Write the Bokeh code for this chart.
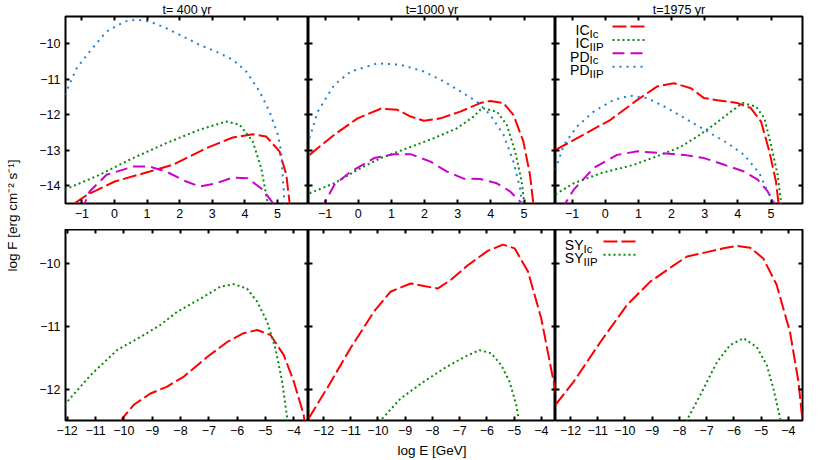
import math
from bokeh.plotting import figure
from bokeh.models import Range1d, LinearAxis, FixedTicker, Label
from bokeh.layouts import row, column
from bokeh.embed import file_html
from bokeh.resources import INLINE
from bokeh.core.properties import value

FONT = "Liberation Sans"

# ---------------- data ----------------
titles = ["t= 400 yr", "t=1000 yr", "t=1975 yr"]
top_xticks = [-1, 0, 1, 2, 3, 4, 5]
top_yticks = [-14, -13, -12, -11, -10]
bot_xticks = [-12, -11, -10, -9, -8, -7, -6, -5, -4]
bot_yticks = [-12, -11, -10]
top_xrange = (-1.5, 5.95)
top_yrange = (-14.5, -9.23)
bot_xrange_first = (-12.06, -3.48)
bot_xrange = (-12.55, -3.48)
bot_yrange = (-12.5, -9.46)

# t = 400 yr, top (IC / PD)
ic_ic_400_x = [-1.21, -0.81, 0.01, 1.08, 1.79, 2.82, 3.63, 4.24, 4.65, 5.06, 5.27, 5.37, 5.4]
ic_ic_400_y = [-14.49, -14.24, -13.88, -13.6, -13.41, -12.94, -12.64, -12.55, -12.61, -13.03, -13.69, -14.49, -14.7]
ic_iip_400_x = [-1.52, -0.45, 0.57, 1.59, 2.61, 3.43, 3.84, 4.24, 4.5, 4.65, 4.72]
ic_iip_400_y = [-14.11, -13.69, -13.22, -12.8, -12.42, -12.19, -12.28, -12.75, -13.5, -14.25, -14.6]
pd_ic_400_x = [-0.98, -0.91, -0.76, -0.24, 0.57, 1.08, 1.59, 2.2, 2.61, 3.12, 3.63, 4.09, 4.55, 4.86, 4.92]
pd_ic_400_y = [-14.7, -14.49, -14.16, -13.69, -13.46, -13.46, -13.6, -13.88, -14.02, -13.93, -13.77, -13.79, -14.11, -14.49, -14.6]
pd_iip_400_x = [-1.52, -1.16, -0.76, -0.24, 0.32, 0.67, 1.08, 1.59, 2.1, 2.61, 3.12, 3.63, 4.04, 4.45, 4.75, 5.01, 5.11, 5.21, 5.25]
pd_iip_400_y = [-11.44, -10.69, -10.22, -9.65, -9.37, -9.32, -9.37, -9.56, -9.79, -10.03, -10.22, -10.45, -10.78, -11.34, -11.9, -12.56, -13.03, -14.44, -14.8]

# t = 1000 yr, top
ic_ic_1000_x = [-1.47, -0.72, -0.02, 0.68, 1.18, 1.58, 1.98, 2.48, 3.08, 3.68, 3.98, 4.38, 4.68, 4.98, 5.18, 5.28, 5.3]
ic_ic_1000_y = [-13.13, -12.56, -12.1, -11.83, -11.86, -12.05, -12.17, -12.1, -11.91, -11.67, -11.61, -11.67, -12.0, -12.75, -13.69, -14.49, -14.7]
ic_iip_1000_x = [-1.47, -0.72, -0.02, 0.68, 1.48, 2.28, 2.98, 3.48, 3.73, 4.18, 4.48, 4.73, 4.93, 5.0, 5.03]
ic_iip_1000_y = [-14.21, -13.93, -13.55, -13.22, -12.94, -12.66, -12.38, -12.05, -11.81, -11.91, -12.28, -13.03, -13.88, -14.44, -14.7]
pd_ic_1000_x = [-1.1, -1.02, -0.72, -0.22, 0.48, 1.08, 1.58, 2.18, 2.68, 3.18, 3.68, 4.18, 4.58, 4.88, 4.95]
pd_ic_1000_y = [-14.7, -14.49, -13.97, -13.6, -13.22, -13.11, -13.11, -13.32, -13.6, -13.8, -13.81, -13.93, -14.16, -14.44, -14.6]
pd_iip_1000_x = [-1.47, -1.22, -0.72, -0.22, 0.58, 1.28, 1.98, 2.58, 3.08, 3.58, 3.98, 4.38, 4.68, 4.88, 4.93, 4.96]
pd_iip_1000_y = [-12.66, -11.91, -11.15, -10.78, -10.55, -10.59, -10.78, -11.06, -11.34, -11.63, -12.0, -12.56, -13.32, -14.07, -14.44, -14.7]

# t = 1975 yr, top
ic_ic_1975_x = [-1.5, -0.65, 0.16, 0.97, 1.57, 2.07, 2.58, 2.98, 3.39, 3.99, 4.39, 4.7, 4.95, 5.15, 5.22, 5.25]
ic_ic_1975_y = [-12.99, -12.56, -12.14, -11.58, -11.2, -11.11, -11.25, -11.53, -11.59, -11.67, -11.81, -12.19, -13.03, -13.88, -14.44, -14.7]
ic_iip_1975_x = [-1.5, -0.95, -0.14, 0.86, 1.67, 2.28, 2.78, 3.28, 3.79, 4.14, 4.55, 4.8, 5.0, 5.2, 5.3, 5.33]
ic_iip_1975_y = [-14.24, -13.93, -13.65, -13.41, -13.13, -12.9, -12.61, -12.28, -11.91, -11.67, -11.77, -12.1, -12.85, -13.69, -14.44, -14.7]
pd_ic_1975_x = [-1.25, -1.2, -0.95, -0.35, 0.36, 0.97, 1.67, 2.38, 2.98, 3.59, 4.19, 4.6, 4.9, 5.1, 5.15]
pd_ic_1975_y = [-14.7, -14.49, -14.11, -13.5, -13.13, -13.03, -13.08, -13.13, -13.22, -13.41, -13.6, -13.83, -14.16, -14.49, -14.6]
pd_iip_1975_x = [-1.5, -1.25, -0.85, -0.35, 0.26, 0.76, 1.27, 1.87, 2.48, 3.08, 3.69, 4.19, 4.65, 4.9, 5.05, 5.1]
pd_iip_1975_y = [-13.55, -12.85, -12.33, -11.91, -11.58, -11.46, -11.53, -11.81, -12.14, -12.47, -12.8, -13.13, -13.65, -14.16, -14.44, -14.7]

# bottom (SY)
sy_ic_400_x = [-10.1, -10.06, -9.65, -9.06, -8.47, -7.88, -7.06, -6.35, -5.77, -5.29, -4.82, -4.35, -4.0, -3.65, -3.6]
sy_ic_400_y = [-12.55, -12.47, -12.25, -12.07, -11.96, -11.8, -11.49, -11.25, -11.11, -11.06, -11.14, -11.46, -11.88, -12.41, -12.6]
sy_iip_400_x = [-12.1, -12.0, -11.18, -10.24, -9.41, -8.71, -8.12, -7.29, -6.59, -6.12, -5.65, -5.29, -4.94, -4.65, -4.41, -4.23, -4.2]
sy_iip_400_y = [-12.25, -12.2, -11.78, -11.38, -11.17, -10.98, -10.77, -10.56, -10.37, -10.33, -10.4, -10.61, -10.93, -11.35, -11.88, -12.47, -12.6]
sy_ic_1000_x = [-12.55, -11.87, -11.01, -10.15, -9.54, -8.8, -8.31, -7.81, -7.32, -6.7, -5.97, -5.41, -4.98, -4.49, -4.0, -3.69, -3.5, -3.45]
sy_ic_1000_y = [-12.47, -11.99, -11.35, -10.77, -10.45, -10.32, -10.36, -10.4, -10.26, -10.03, -9.8, -9.7, -9.76, -10.13, -10.88, -11.57, -11.99, -12.1]
sy_iip_1000_x = [-9.9, -9.84, -9.17, -8.31, -7.57, -6.83, -6.28, -5.84, -5.47, -5.17, -4.92, -4.84, -4.8]
sy_iip_1000_y = [-12.55, -12.47, -12.15, -11.88, -11.67, -11.49, -11.38, -11.43, -11.62, -11.88, -12.25, -12.47, -12.6]
sy_ic_1975_x = [-12.55, -11.88, -10.9, -9.92, -9.07, -8.21, -7.72, -6.99, -6.38, -5.89, -5.4, -4.92, -4.43, -3.94, -3.63, -3.54, -3.48]
sy_ic_1975_y = [-12.25, -11.88, -11.25, -10.66, -10.29, -10.03, -9.89, -9.82, -9.76, -9.72, -9.75, -9.92, -10.34, -11.09, -11.88, -12.25, -12.5]
sy_iip_1975_x = [-7.8, -7.72, -7.24, -6.62, -6.14, -5.65, -5.16, -4.79, -4.55, -4.3, -4.25]
sy_iip_1975_y = [-12.6, -12.49, -12.1, -11.57, -11.3, -11.19, -11.33, -11.62, -11.99, -12.47, -12.6]

top_legend = [("IC", "Ic"), ("IC", "IIP"), ("PD", "Ic"), ("PD", "IIP")]
bot_legend = [("SY", "Ic"), ("SY", "IIP")]
ylabel_text = "log F [erg cm\u207b\u00b2 s\u207b\u00b9]"
xlabel_text = "log E [GeV]"

# ---------------- styles ----------------
STY = {
    "IC_Ic": dict(line_color="#ff0000", line_dash="14 4", line_width=2),
    "IC_IIP": dict(line_color="#0a8a0a", line_dash="2 3", line_width=2),
    "PD_Ic": dict(line_color="#cc00cc", line_dash="12 6", line_width=2),
    "PD_IIP": dict(line_color="#1f80d0", line_dash="2 5", line_width=2),
    "SY_Ic": dict(line_color="#ff0000", line_dash="14 4", line_width=2),
    "SY_IIP": dict(line_color="#0a8a0a", line_dash="2 3", line_width=2),
}

LAB_W = 28
TOP_MT, TOP_FH, TOP_MB = 15, 187, 26
BOT_FH, BOT_MB = 191, 41
TOTAL_H = TOP_MT + TOP_FH + TOP_MB + BOT_FH + BOT_MB
FW1, FW = 243, 247
ML, MR = 37, 20


def add_axis(p, place, ticks, labels, axis_label=None):
    ax = LinearAxis(ticker=FixedTicker(ticks=ticks))
    ax.axis_line_color = None
    ax.major_tick_in = 4
    ax.major_tick_out = 0
    ax.major_tick_line_width = 2
    ax.major_tick_line_color = "black"
    ax.minor_tick_line_color = None
    if labels:
        ax.major_label_text_font = FONT
        ax.major_label_text_font_size = "12.5px"
        ax.major_label_text_color = "black"
        ax.major_label_standoff = 5
    else:
        ax.major_label_text_font_size = "0px"
        ax.major_label_text_color = None
        ax.major_label_standoff = 0
    if axis_label:
        ax.axis_label = axis_label
        ax.axis_label_text_font = FONT
        ax.axis_label_text_font_size = "13.5px"
        ax.axis_label_text_font_style = "normal"
        ax.axis_label_text_color = "black"
        ax.axis_label_standoff = 5
    p.add_layout(ax, place)


def make_fig(xr, yr, fw, fh, ml, mr, mt, mb, xticks, yticks, ylabels, xlabel=None, title=None):
    kw = {}
    if title:
        kw["title"] = title
    p = figure(frame_width=fw, frame_height=fh,
               x_range=Range1d(*xr), y_range=Range1d(*yr),
               x_axis_location=None, y_axis_location=None,
               output_backend="svg", toolbar_location=None,
               min_border_left=ml, min_border_right=mr,
               min_border_top=mt, min_border_bottom=mb, **kw)
    if title:
        p.title.align = "center"
        p.title.text_font = FONT
        p.title.text_font_size = "12.5px"
        p.title.text_font_style = "normal"
        p.title.text_color = "black"
        p.title.standoff = 0
        p.title.offset = 0
    p.grid.visible = False
    p.outline_line_color = "black"
    p.outline_line_width = 2
    p.background_fill_color = "white"
    p.border_fill_color = "white"
    add_axis(p, "below", xticks, True, xlabel)
    add_axis(p, "above", xticks, False)
    add_axis(p, "left", yticks, ylabels)
    add_axis(p, "right", yticks, False)
    return p


def to_data(p, fw, fh, dx, dy):
    x0, x1 = p.x_range.start, p.x_range.end
    y0, y1 = p.y_range.start, p.y_range.end
    return x0 + dx / fw * (x1 - x0), y1 - dy / fh * (y1 - y0)


def draw_legend(p, fw, fh, entries, text_dx, line_dx0, line_dx1, row_dy):
    for i, (main, sub) in enumerate(entries):
        dy = row_dy[i]
        sty = STY[main + "_" + sub]
        lx0, ly = to_data(p, fw, fh, line_dx0, dy)
        lx1, _ = to_data(p, fw, fh, line_dx1, dy)
        p.line([lx0, lx1], [ly, ly], **sty)
        tx, ty = to_data(p, fw, fh, text_dx, dy + 3.5)
        p.text([tx], [ty], text=[main], text_align="right", text_baseline="alphabetic",
               text_font=value(FONT), text_font_size="14px", text_color="black")
        sx, sy = to_data(p, fw, fh, text_dx, dy + 7)
        p.text([sx], [sy], text=[sub], text_align="left", text_baseline="alphabetic",
               text_font=value(FONT), text_font_size="11.5px", text_color="black")


# ---------------- top row ----------------
f1 = make_fig(top_xrange, top_yrange, FW1, TOP_FH, ML, 0, TOP_MT, TOP_MB, top_xticks, top_yticks, True, title=titles[0])
f2 = make_fig(top_xrange, top_yrange, FW, TOP_FH, 0, 0, TOP_MT, TOP_MB, top_xticks, top_yticks, False, title=titles[1])
f3 = make_fig(top_xrange, top_yrange, FW, TOP_FH, 0, MR, TOP_MT, TOP_MB, top_xticks, top_yticks, False, title=titles[2])

top_series = [
    (f1, [("IC_Ic", ic_ic_400_x, ic_ic_400_y), ("IC_IIP", ic_iip_400_x, ic_iip_400_y),
          ("PD_Ic", pd_ic_400_x, pd_ic_400_y), ("PD_IIP", pd_iip_400_x, pd_iip_400_y)]),
    (f2, [("IC_Ic", ic_ic_1000_x, ic_ic_1000_y), ("IC_IIP", ic_iip_1000_x, ic_iip_1000_y),
          ("PD_Ic", pd_ic_1000_x, pd_ic_1000_y), ("PD_IIP", pd_iip_1000_x, pd_iip_1000_y)]),
    (f3, [("IC_Ic", ic_ic_1975_x, ic_ic_1975_y), ("IC_IIP", ic_iip_1975_x, ic_iip_1975_y),
          ("PD_Ic", pd_ic_1975_x, pd_ic_1975_y), ("PD_IIP", pd_iip_1975_x, pd_iip_1975_y)]),
]
for p, series in top_series:
    for key, xs, ys in series:
        p.line(xs, ys, **STY[key])

draw_legend(f3, FW, TOP_FH, top_legend, 34, 57, 92, [10, 23.4, 36.8, 50.2])

# ---------------- bottom row ----------------
f4 = make_fig(bot_xrange_first, bot_yrange, FW1, BOT_FH, ML, 0, 0, BOT_MB, bot_xticks, bot_yticks, True)
f5 = make_fig(bot_xrange, bot_yrange, FW, BOT_FH, 0, 0, 0, BOT_MB, bot_xticks, bot_yticks, False, xlabel_text)
f6 = make_fig(bot_xrange, bot_yrange, FW, BOT_FH, 0, MR, 0, BOT_MB, bot_xticks, bot_yticks, False)

bot_series = [
    (f4, [("SY_Ic", sy_ic_400_x, sy_ic_400_y), ("SY_IIP", sy_iip_400_x, sy_iip_400_y)]),
    (f5, [("SY_Ic", sy_ic_1000_x, sy_ic_1000_y), ("SY_IIP", sy_iip_1000_x, sy_iip_1000_y)]),
    (f6, [("SY_Ic", sy_ic_1975_x, sy_ic_1975_y), ("SY_IIP", sy_iip_1975_x, sy_iip_1975_y)]),
]
for p, series in bot_series:
    for key, xs, ys in series:
        p.line(xs, ys, **STY[key])

draw_legend(f6, FW, BOT_FH, bot_legend, 28, 48, 83, [12, 25.3])

# ---------------- y label column ----------------
lab = figure(width=LAB_W, height=TOTAL_H, x_range=Range1d(0, LAB_W), y_range=Range1d(0, TOTAL_H),
             x_axis_location=None, y_axis_location=None,
             output_backend="svg", toolbar_location=None, min_border=0)
lab.grid.visible = False
lab.outline_line_color = None
lab.background_fill_color = "white"
lab.border_fill_color = "white"
lab.add_layout(Label(x=12, y=TOTAL_H - 215, text=ylabel_text, angle=math.pi / 2,
                     text_align="center", text_baseline="middle",
                     text_font=FONT, text_font_size="13.5px", text_color="black"))

layout = row(lab, column(row(f1, f2, f3), row(f4, f5, f6)))

with open("out.html", "w") as fh:
    fh.write(file_html(layout, INLINE))
